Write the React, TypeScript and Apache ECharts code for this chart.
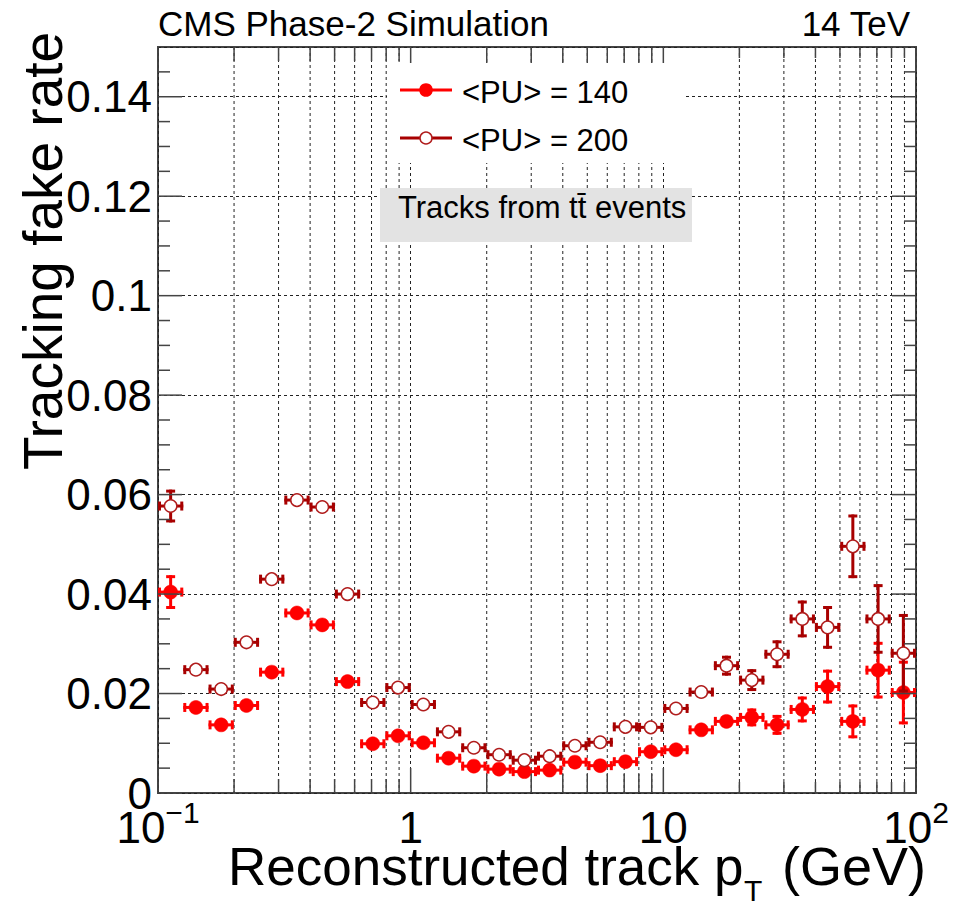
import React, { useEffect, useRef } from "react";
import * as echarts from "echarts";

// ---- data ----
const binEdges = [
  0.1, 0.1259, 0.1585, 0.1995, 0.2512, 0.3162, 0.3981, 0.5012, 0.631, 0.7943,
  1, 1.259, 1.585, 1.995, 2.512, 3.162, 3.981, 5.012, 6.31, 7.943,
  10, 12.59, 15.85, 19.95, 25.12, 31.62, 39.81, 50.12, 63.1, 79.43, 100,
];
const fakeRatePU140 = [
  0.0404, 0.0172, 0.0137, 0.0176, 0.0243, 0.0362, 0.0338, 0.0224, 0.0099, 0.0115,
  0.0101, 0.007, 0.0054, 0.0048, 0.0043, 0.0046, 0.0062, 0.0055, 0.0063, 0.0083,
  0.0087, 0.0127, 0.0144, 0.0152, 0.0137, 0.0168, 0.0214, 0.0144, 0.0247, 0.0202,
];
const errPU140 = [
  0.0034, 0.0008, 0.0008, 0.0008, 0.0008, 0.0009, 0.0009, 0.0008, 0.0006, 0.0006,
  0.0006, 0.0005, 0.0005, 0.0005, 0.0005, 0.0005, 0.0006, 0.0006, 0.0007, 0.0008,
  0.0009, 0.0011, 0.0012, 0.0018, 0.002, 0.0026, 0.0034, 0.0034, 0.0057, 0.0064,
];
const fakeRatePU200 = [
  0.0577, 0.0248, 0.0209, 0.0303, 0.043, 0.0589, 0.0575, 0.04, 0.0182, 0.0212,
  0.0178, 0.0123, 0.0091, 0.0077, 0.0066, 0.0074, 0.0095, 0.0102, 0.0133, 0.0132,
  0.017, 0.0203, 0.0256, 0.0227, 0.0279, 0.035, 0.0333, 0.0496, 0.035, 0.0281,
];
const errPU200 = [
  0.0033, 0.0008, 0.0008, 0.0009, 0.001, 0.0011, 0.0011, 0.001, 0.0007, 0.0007,
  0.0007, 0.0006, 0.0006, 0.0005, 0.0005, 0.0005, 0.0006, 0.0007, 0.0008, 0.0009,
  0.001, 0.0013, 0.002, 0.0022, 0.0028, 0.0037, 0.0043, 0.0064, 0.007, 0.0079,
];
const xMajorTicks = [0.1, 1, 10, 100];
const xMinorTicks = [
  0.2, 0.3, 0.4, 0.5, 0.6, 0.7, 0.8, 0.9,
  2, 3, 4, 5, 6, 7, 8, 9,
  20, 30, 40, 50, 60, 70, 80, 90,
];
const yMajorTicks = [0, 0.02, 0.04, 0.06, 0.08, 0.1, 0.12, 0.14];
const yMinorTicks = [
  0.005, 0.01, 0.015, 0.025, 0.03, 0.035, 0.045, 0.05, 0.055, 0.065, 0.07, 0.075,
  0.085, 0.09, 0.095, 0.105, 0.11, 0.115, 0.125, 0.13, 0.135, 0.145,
];
const legendLabels = ["<PU> = 140", "<PU> = 200"];
const yMin = 0;
const yMax = 0.15;
const xMin = 0.1;
const xMax = 100;

// ---- styles ----
const FONT = '"Liberation Sans", Arial, Helvetica, sans-serif';
const RED = "#ff0000";
const DARK = "#a80000";
const OPEN_STROKE = "#b01c1c";
const FRAME = "#444444";
const GRID_LEFT = 158;
const GRID_TOP = 47;
const GRID_RIGHT = 51;
const GRID_BOTTOM = 116;
const MARKER_R = 7;

function rowsFor(vals: number[], errs: number[]) {
  return vals.map((y, i) => [
    binEdges[i],
    binEdges[i + 1],
    Math.sqrt(binEdges[i] * binEdges[i + 1]),
    y,
    errs[i],
  ]);
}

function makeErrRender(color: string, filled: boolean) {
  return (params: any, api: any) => {
    const xl = api.value(0);
    const xh = api.value(1);
    const xc = api.value(2);
    const y = api.value(3);
    const e = api.value(4);
    const pc = api.coord([xc, y]);
    const pl = api.coord([xl, y]);
    const ph = api.coord([xh, y]);
    const pt = api.coord([xc, y + e]);
    const pb = api.coord([xc, y - e]);
    const r = MARKER_R;
    const lw = 3;
    const cap = 9;
    const st = { stroke: color, lineWidth: lw };
    const children: any[] = [];
    children.push({ type: "line", shape: { x1: pl[0], y1: pc[1], x2: ph[0], y2: pc[1] }, style: st });
    children.push({ type: "line", shape: { x1: pl[0] + 1.5, y1: pc[1] - cap / 2, x2: pl[0] + 1.5, y2: pc[1] + cap / 2 }, style: st });
    children.push({ type: "line", shape: { x1: ph[0] - 1.5, y1: pc[1] - cap / 2, x2: ph[0] - 1.5, y2: pc[1] + cap / 2 }, style: st });
    if (pc[1] - pt[1] > r + 1) {
      children.push({ type: "line", shape: { x1: pc[0], y1: pt[1], x2: pc[0], y2: pb[1] }, style: st });
      children.push({ type: "line", shape: { x1: pc[0] - cap / 2, y1: pt[1] + 1.5, x2: pc[0] + cap / 2, y2: pt[1] + 1.5 }, style: st });
      children.push({ type: "line", shape: { x1: pc[0] - cap / 2, y1: pb[1] - 1.5, x2: pc[0] + cap / 2, y2: pb[1] - 1.5 }, style: st });
    }
    children.push({
      type: "circle",
      shape: { cx: pc[0], cy: pc[1], r: filled ? r : r - 0.75 },
      style: filled
        ? { fill: color, stroke: color, lineWidth: 0.5 }
        : { fill: "#ffffff", stroke: OPEN_STROKE, lineWidth: 1.5 },
    });
    return { type: "group", children };
  };
}

function minorLen(v: number) {
  if (v < 1) return 14;
  if (v < 10) return 19;
  return 11;
}

function tickRender(params: any, api: any) {
  const cs = params.coordSys;
  const kind = api.value(2);
  const st = { stroke: FRAME, lineWidth: 1.5 };
  const top = cs.y;
  const bottom = cs.y + cs.height;
  const left = cs.x;
  const right = cs.x + cs.width;
  if (kind === 0 || kind === 1) {
    const px = api.coord([api.value(0), yMin])[0];
    const len = kind === 0 ? 25 : minorLen(api.value(0));
    return {
      type: "group",
      children: [
        { type: "line", shape: { x1: px, y1: bottom, x2: px, y2: bottom - len }, style: st },
        { type: "line", shape: { x1: px, y1: top, x2: px, y2: top + len }, style: st },
      ],
    };
  }
  const py = api.coord([xMin, api.value(1)])[1];
  const len = kind === 2 ? 24 : 12;
  return {
    type: "group",
    children: [
      { type: "line", shape: { x1: left, y1: py, x2: left + len, y2: py }, style: st },
      { type: "line", shape: { x1: right, y1: py, x2: right - len, y2: py }, style: st },
    ],
  };
}

function minorGridRender(params: any, api: any) {
  const cs = params.coordSys;
  const px = api.coord([api.value(0), yMin])[0];
  return {
    type: "line",
    shape: { x1: px, y1: cs.y, x2: px, y2: cs.y + cs.height },
    style: { stroke: "#222", lineWidth: 1, lineDash: [3, 3] },
  };
}

const tickData: number[][] = [
  ...xMajorTicks.map((v) => [v, yMin, 0]),
  ...xMinorTicks.map((v) => [v, yMin, 1]),
  ...yMajorTicks.map((v) => [xMin, v, 2]),
  ...yMinorTicks.map((v) => [xMin, v, 3]),
];

function xLabel(v: number) {
  const p = Math.round(Math.log10(v));
  if (p === 0) return "{b|1}";
  if (p === 1) return "{b|10}";
  return "{b|10}{s|" + (p < 0 ? "\u2212" + -p : String(p)) + "}";
}

const option: any = {
  animation: false,
  backgroundColor: "#ffffff",
  grid: {
    left: GRID_LEFT,
    top: GRID_TOP,
    right: GRID_RIGHT,
    bottom: GRID_BOTTOM,
    show: true,
    borderColor: FRAME,
    borderWidth: 2,
    backgroundColor: "transparent",
  },
  xAxis: {
    type: "log",
    logBase: 10,
    min: xMin,
    max: xMax,
    axisLine: { show: false },
    axisTick: { show: false },
    splitLine: { show: true, lineStyle: { color: "#222", width: 1, type: [3, 3] } },
    axisLabel: {
      show: true,
      margin: 4,
      showMinLabel: true,
      showMaxLabel: true,
      formatter: xLabel,
      rich: {
        b: { fontSize: 44, lineHeight: 52, verticalAlign: "bottom", fontFamily: FONT, color: "#000" },
        s: { fontSize: 30, lineHeight: 52, verticalAlign: "top", fontFamily: FONT, color: "#000" },
      },
    },
  },
  yAxis: {
    type: "value",
    min: yMin,
    max: yMax,
    interval: 0.02,
    axisLine: { show: false },
    axisTick: { show: false },
    splitLine: { show: true, lineStyle: { color: "#222", width: 1, type: [3, 3] } },
    axisLabel: {
      show: true,
      margin: 6,
      showMaxLabel: false,
      fontSize: 44,
      fontFamily: FONT,
      color: "#000",
    },
  },
  series: [
    {
      type: "custom",
      name: "minorGrid",
      z: 1,
      silent: true,
      renderItem: minorGridRender,
      encode: { x: 0, y: 1 },
      data: xMinorTicks.map((v) => [v, yMin]),
    },
    {
      type: "custom",
      name: legendLabels[0],
      z: 3,
      renderItem: makeErrRender(RED, true),
      encode: { x: [0, 1, 2], y: 3 },
      data: rowsFor(fakeRatePU140, errPU140),
    },
    {
      type: "custom",
      name: legendLabels[1],
      z: 4,
      renderItem: makeErrRender(DARK, false),
      encode: { x: [0, 1, 2], y: 3 },
      data: rowsFor(fakeRatePU200, errPU200),
    },
    {
      type: "custom",
      name: "ticks",
      z: 6,
      silent: true,
      renderItem: tickRender,
      encode: { x: 0, y: 1 },
      data: tickData,
    },
  ],
  graphic: [
    // legend background
    { type: "rect", z: 20, shape: { x: 387, y: 63, width: 296, height: 100 }, style: { fill: "#ffffff" } },
    { type: "line", z: 21, shape: { x1: 400, y1: 90, x2: 452, y2: 90 }, style: { stroke: RED, lineWidth: 3 } },
    { type: "circle", z: 22, shape: { cx: 426, cy: 90, r: 6.8 }, style: { fill: RED } },
    { type: "text", z: 22, x: 462, y: 92, style: { text: legendLabels[0], font: "31px " + FONT, fill: "#000", verticalAlign: "middle", align: "left" } },
    { type: "line", z: 21, shape: { x1: 400, y1: 138, x2: 452, y2: 138 }, style: { stroke: DARK, lineWidth: 3 } },
    { type: "circle", z: 22, shape: { cx: 426, cy: 138, r: 6 }, style: { fill: "#ffffff", stroke: OPEN_STROKE, lineWidth: 1.5 } },
    { type: "text", z: 22, x: 462, y: 140, style: { text: legendLabels[1], font: "31px " + FONT, fill: "#000", verticalAlign: "middle", align: "left" } },
    // tt box
    { type: "rect", z: 20, shape: { x: 380, y: 188, width: 312, height: 54 }, style: { fill: "#e3e3e3" } },
    { type: "text", z: 22, x: 398, y: 207, style: { text: "Tracks from t\u0074\u0304 events", font: "31px " + FONT, fill: "#000", verticalAlign: "middle", align: "left" } },
    // header
    { type: "text", z: 22, x: 158, y: 23, style: { text: "CMS Phase-2 Simulation", font: "35px " + FONT, fill: "#000", verticalAlign: "middle", align: "left" } },
    { type: "text", z: 22, x: 910, y: 23, style: { text: "14 TeV", font: "35px " + FONT, fill: "#000", verticalAlign: "middle", align: "right" } },
    // y title
    { type: "text", z: 22, x: 43, y: 470, rotation: Math.PI / 2, style: { text: "Tracking fake rate", font: "55px " + FONT, fill: "#000", verticalAlign: "middle", align: "left" } },
    // x title
    { type: "text", z: 22, x: 228, y: 866, style: { text: "Reconstructed track p", font: "53px " + FONT, fill: "#000", verticalAlign: "middle", align: "left" } },
    { type: "text", z: 22, x: 744, y: 890, style: { text: "T", font: "30px " + FONT, fill: "#000", verticalAlign: "middle", align: "left" } },
    { type: "text", z: 22, x: 782, y: 866, style: { text: "(GeV)", font: "54px " + FONT, fill: "#000", verticalAlign: "middle", align: "left" } },
  ],
};

export default function App() {
  const ref = useRef<HTMLDivElement>(null);
  useEffect(() => {
    document.body.style.margin = "0";
    const chart = echarts.init(ref.current as HTMLDivElement, null, { renderer: "svg" });
    chart.setOption(option);
    return () => chart.dispose();
  }, []);
  return (
    <div
      ref={ref}
      style={{ position: "absolute", left: 0, top: 0, width: 967, height: 909, background: "#fff" }}
    />
  );
}
